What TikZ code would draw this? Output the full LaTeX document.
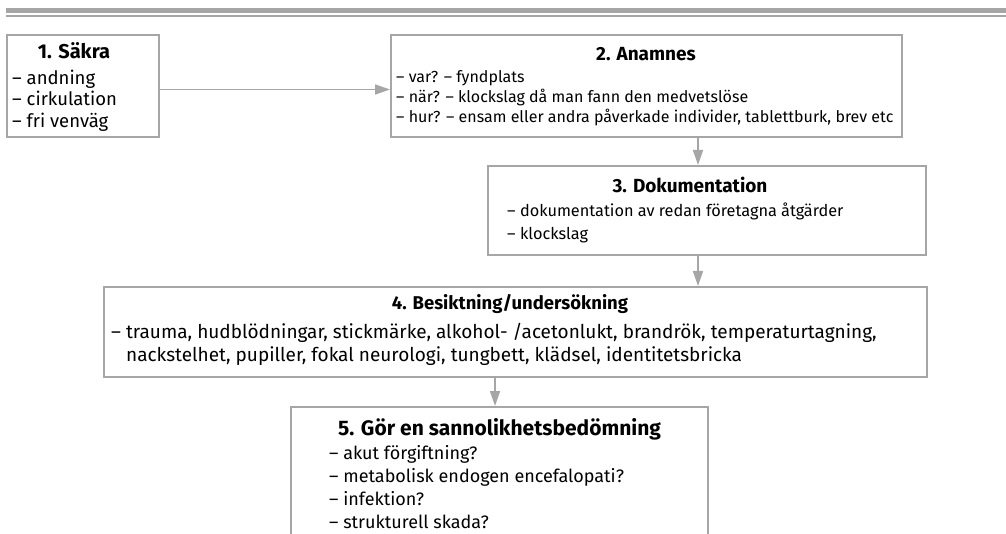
\documentclass[tikz,border=0pt]{standalone}
\usepackage{fontspec}
\setmainfont{Fira Sans}
\usetikzlibrary{arrows.meta}
\definecolor{lg}{RGB}{166,166,166}
\newcommand{\fs}[1]{\fontsize{#1}{#1}\selectfont}
\begin{document}
\begin{tikzpicture}[x=1pt,y=-1pt,
  box/.style={draw=lg, line width=2pt, inner sep=0pt},
  txt/.style={anchor=base west, inner sep=0pt},
  ttl/.style={anchor=base, inner sep=0pt, font=\bfseries},
  arr/.style={draw=lg, line width=1.6pt, -{Triangle[length=15pt,width=10pt]}},
  rule/.style={draw=lg}]
\useasboundingbox (0,0) rectangle (1006,534);
\clip (0,0) rectangle (1006,534);
% top rules
\coordinate (r1a) at (6,10.3); \coordinate (r1b) at (1010,10.3);
\coordinate (r2a) at (6,15.7); \coordinate (r2b) at (1010,15.7);
\draw[rule, line width=4.5pt] (r1a) -- (r1b);
\draw[rule, line width=2pt] (r2a) -- (r2b);
% boxes
\node[box, minimum width=152pt, minimum height=102pt] (b1) at (83,86) {};
\node[box, minimum width=511pt, minimum height=102pt] (b2) at (646.5,86) {};
\node[box, minimum width=438pt, minimum height=89pt] (b3) at (707,210.5) {};
\node[box, minimum width=823pt, minimum height=90pt] (b4) at (515.5,332) {};
\node[box, minimum width=417pt, minimum height=160pt] (b5) at (499.5,487) {};
% box 1
\node[ttl, font=\fs{20}\bfseries] (t1) at (74,59) {1. Säkra};
\node[txt, font=\fs{18.5}] (t1a) at (12,84.5) {– andning};
\node[txt, font=\fs{18.5}] (t1b) at (12,106) {– cirkulation};
\node[txt, font=\fs{18.5}] (t1c) at (12,127.5) {– fri venväg};
% box 2
\node[ttl, font=\fs{19}\bfseries] (t2) at (646,61) {2. Anamnes};
\node[txt, font=\fs{16}] (t2a) at (396,83) {– var? – fyndplats};
\node[txt, font=\fs{16}] (t2b) at (396,103) {– när? – klockslag då man fann den medvetslöse};
\node[txt, font=\fs{16}] (t2c) at (396,123) {– hur? – ensam eller andra påverkade individer, tablettburk, brev etc};
% box 3
\node[ttl, font=\fs{19}\bfseries] (t3) at (690,193) {3. Dokumentation};
\node[txt, font=\fs{16.3}] (t3a) at (507,217) {– dokumentation av redan företagna åtgärder};
\node[txt, font=\fs{16.3}] (t3b) at (507,240) {– klockslag};
% box 4
\node[ttl, font=\fs{18.5}\bfseries] (t4) at (510,310) {4. Besiktning/undersökning};
\node[txt, font=\fs{19}] (t4a) at (111,338) {– trauma, hudblödningar, stickmärke, alkohol- /acetonlukt, brandrök, temperaturtagning,};
\node[txt, font=\fs{19}] (t4b) at (111,361) {\phantom{– }nackstelhet, pupiller, fokal neurologi, tungbett, klädsel, identitetsbricka};
% box 5
\node[ttl, font=\fs{21}\bfseries] (t5) at (499.5,435) {5. Gör en sannolikhetsbedömning};
\node[txt, font=\fs{18}] (t5a) at (329,459) {– akut förgiftning?};
\node[txt, font=\fs{18}] (t5b) at (329,482) {– metabolisk endogen encefalopati?};
\node[txt, font=\fs{18}] (t5c) at (329,505) {– infektion?};
\node[txt, font=\fs{18}] (t5d) at (329,528) {– strukturell skada?};
% connectors
\coordinate (c12) at (0,89.5);
\coordinate (c23) at (698,0);
\coordinate (c45) at (495,0);
\draw[arr] (b1.east |- c12) -- (b2.west |- c12);
\draw[arr] (b2.south -| c23) -- (b3.north -| c23);
\draw[arr] (b3.south -| c23) -- (b4.north -| c23);
\draw[arr] (b4.south -| c45) -- (b5.north -| c45);
\end{tikzpicture}
\end{document}
